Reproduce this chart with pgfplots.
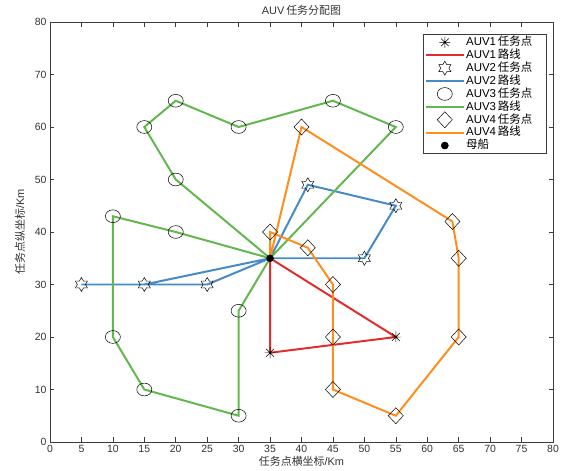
\documentclass[border=0pt]{standalone}
\usepackage{pgfplots}
\pgfplotsset{compat=1.18}
\usepackage{fontspec}
\setmainfont{Liberation Sans}
\newfontfamily\cjk{Noto Sans CJK SC}
\usetikzlibrary{plotmarks}

\definecolor{cred}{RGB}{226,45,45}
\definecolor{cblue}{RGB}{70,138,198}
\definecolor{cgreen}{RGB}{98,184,78}
\definecolor{corange}{RGB}{255,142,28}
\definecolor{axgray}{RGB}{60,60,60}

\pgfdeclareplotmark{hexagram}{%
  \pgfpathmoveto{\pgfpointpolar{90}{\pgfplotmarksize}}%
  \pgfpathlineto{\pgfpointpolar{120}{0.577\pgfplotmarksize}}%
  \pgfpathlineto{\pgfpointpolar{150}{\pgfplotmarksize}}%
  \pgfpathlineto{\pgfpointpolar{180}{0.577\pgfplotmarksize}}%
  \pgfpathlineto{\pgfpointpolar{210}{\pgfplotmarksize}}%
  \pgfpathlineto{\pgfpointpolar{240}{0.577\pgfplotmarksize}}%
  \pgfpathlineto{\pgfpointpolar{270}{\pgfplotmarksize}}%
  \pgfpathlineto{\pgfpointpolar{300}{0.577\pgfplotmarksize}}%
  \pgfpathlineto{\pgfpointpolar{330}{\pgfplotmarksize}}%
  \pgfpathlineto{\pgfpointpolar{0}{0.577\pgfplotmarksize}}%
  \pgfpathlineto{\pgfpointpolar{30}{\pgfplotmarksize}}%
  \pgfpathlineto{\pgfpointpolar{60}{0.577\pgfplotmarksize}}%
  \pgfpathclose
  \pgfusepathqstroke}

\pgfdeclareplotmark{mstar}{%
  \pgfpathmoveto{\pgfqpoint{-\pgfplotmarksize}{0pt}}%
  \pgfpathlineto{\pgfqpoint{\pgfplotmarksize}{0pt}}%
  \pgfpathmoveto{\pgfqpoint{0pt}{-\pgfplotmarksize}}%
  \pgfpathlineto{\pgfqpoint{0pt}{\pgfplotmarksize}}%
  \pgfpathmoveto{\pgfpointpolar{45}{\pgfplotmarksize}}%
  \pgfpathlineto{\pgfpointpolar{225}{\pgfplotmarksize}}%
  \pgfpathmoveto{\pgfpointpolar{135}{\pgfplotmarksize}}%
  \pgfpathlineto{\pgfpointpolar{315}{\pgfplotmarksize}}%
  \pgfusepathqstroke}

\pgfplotsset{
  legend image code/.code={%
    \path[draw=none, fill=none] (-1bp,-3bp) rectangle (40bp,3bp);%
    \draw[mark repeat=2,mark phase=2,#1,overlay] plot coordinates {(0bp,0bp) (19bp,0bp) (38bp,0bp)};},
}

\begin{document}
\begin{tikzpicture}
\path[use as bounding box] (-50bp,-29bp) rectangle (518bp,442bp);
\begin{axis}[
  at={(0bp,0bp)}, anchor=south west,
  scale only axis,
  width=503bp, height=420bp,
  xmin=0, xmax=80, ymin=0, ymax=80,
  xtick={0,5,...,80}, ytick={0,10,...,80},
  tick align=inside,
  major tick length=4.5bp,
  axis line style={axgray, line width=0.6pt},
  every tick/.style={axgray, line width=0.6pt},
  tick label style={font=\fontsize{10.5}{12}\selectfont, text=black!80},
  /pgf/number format/assume math mode=true,
  title={AUV\,{\cjk 任务分配图}},
  title style={font=\fontsize{11}{12}\selectfont, text=black!80, yshift=-3bp},
  xlabel={{\cjk 任务点横坐标}/Km},
  ylabel={{\cjk 任务点纵坐标}/Km},
  label style={font=\fontsize{11}{12}\selectfont, text=black!80},
  xlabel style={yshift=3bp},
  ylabel style={yshift=3bp},
  legend cell align=left,
  legend style={at={(0.7416,0.9714)}, anchor=north west, draw=axgray, line width=0.6pt,
    font=\fontsize{11.5}{12}\selectfont, row sep=0.8bp, inner xsep=1.5bp, inner ysep=2bp,
    nodes={inner sep=0.3bp, text height=9bp, text depth=2.5bp}},
]
% AUV1
\addplot[only marks, mark=mstar, mark size=5.5bp, mark options={black, line width=0.5pt}]
  coordinates {(35,17) (55,20)};
\addlegendentry{AUV1\,{\cjk 任务点}\makebox[12bp]{}}
\addplot[cred, line width=2pt, mark=none]
  coordinates {(35,35) (35,17) (55,20) (35,35)};
\addlegendentry{AUV1\,{\cjk 路线}}
% AUV2
\addplot[only marks, mark=hexagram, mark size=7bp, mark options={black, line width=0.5pt}]
  coordinates {(5,30) (15,30) (25,30) (41,49) (55,45) (50,35)};
\addlegendentry{AUV2\,{\cjk 任务点}}
\addplot[cblue, line width=2pt, mark=none]
  coordinates {(35,35) (15,30) (5,30) (25,30) (35,35)};
\addlegendentry{AUV2\,{\cjk 路线}}
\addplot[cblue, line width=2pt, mark=none, forget plot]
  coordinates {(35,35) (41,49) (55,45) (50,35) (35,35)};
% AUV3
\addplot[only marks, mark=o, mark size=7.5bp, mark options={black, line width=0.5pt, yscale=0.85}]
  coordinates {(20,50) (15,60) (20,65) (30,60) (45,65) (55,60) (20,40) (10,43) (10,20) (15,10) (30,5) (30,25)};
\addlegendentry{AUV3\,{\cjk 任务点}}
\addplot[cgreen, line width=2pt, mark=none]
  coordinates {(35,35) (20,50) (15,60) (20,65) (30,60) (45,65) (55,60) (35,35)};
\addlegendentry{AUV3\,{\cjk 路线}}
\addplot[cgreen, line width=2pt, mark=none, forget plot]
  coordinates {(35,35) (20,40) (10,43) (10,20) (15,10) (30,5) (30,25) (35,35)};
% AUV4
\addplot[only marks, mark=diamond, mark size=8bp, mark options={black, line width=0.5pt, xscale=1.25}]
  coordinates {(35,40) (41,37) (45,30) (45,20) (45,10) (55,5) (65,20) (65,35) (64,42) (40,60)};
\addlegendentry{AUV4\,{\cjk 任务点}}
\addplot[corange, line width=2pt, mark=none]
  coordinates {(35,35) (35,40) (41,37) (45,30) (45,20) (45,10) (55,5) (65,20) (65,35) (64,42) (40,60) (35,35)};
\addlegendentry{AUV4\,{\cjk 路线}}
% mother ship
\addplot[only marks, mark=*, mark size=3.5bp, mark options={black, fill=black}]
  coordinates {(35,35)};
\addlegendentry{{\cjk 母船}}
\end{axis}
\end{tikzpicture}
\end{document}
